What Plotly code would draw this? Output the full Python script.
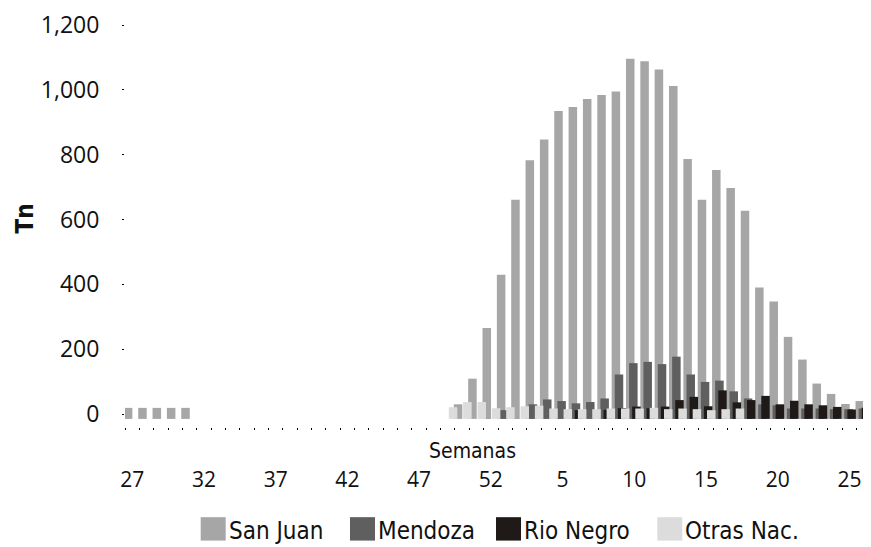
import plotly.graph_objects as go

weeks = ["27", "28", "29", "30", "31", "32", "33", "34", "35", "36", "37", "38", "39",
         "40", "41", "42", "43", "44", "45", "46", "47", "48", "49", "50", "51", "52",
         "1", "2", "3", "4", "5", "6", "7", "8", "9", "10", "11", "12", "13",
         "14", "15", "16", "17", "18", "19", "20", "21", "22", "23", "24", "25", "26"]

N = None
san_juan = [19, 19, 19, 19, 19, N, N, N, N, N, N, N, N,
            N, N, N, N, N, N, N, N, N, N, 30, 109, 265,
            430, 661, 783, 847, 935, 947, 972, 984, 995, 1096, 1088, 1063, 1012,
            787, 661, 753, 697, 627, 390, 347, 238, 168, 94, 62, 31, 40]
mendoza = [N, N, N, N, N, N, N, N, N, N, N, N, N,
           N, N, N, N, N, N, N, N, N, N, N, N, N,
           12, N, 30, 45, 40, 33, 37, 48, 122, 157, 161, 154, 177,
           122, 99, 103, 70, 48, 30, 27, 17, 17, 17, 15, 15, 17]
rio_negro = [N, N, N, N, N, N, N, N, N, N, N, N, N,
             N, N, N, N, N, N, N, N, N, N, N, N, N,
             N, N, N, N, N, 12, N, 13, 18, 23, 18, 23, 43,
             53, 24, 73, 36, 43, 56, 30, 41, 30, 27, 22, 14, 19]
otras = [N, N, N, N, N, N, N, N, N, N, N, N, N,
         N, N, N, N, N, N, N, N, N, 21, 37, 37, 18,
         21, 24, 26, 17, 15, 15, 15, 17, 17, 17, 19, 15, 17,
         15, 12, 15, 17, N, N, N, N, N, N, N, N, N]

series_names = ["San Juan", "Mendoza", "Rio Negro", "Otras Nac."]
series_values = [san_juan, mendoza, rio_negro, otras]
colors = ["#a6a6a6", "#5f5f5f", "#1f1a17", "#dcdcdc"]
offsets = [-0.579, -0.363, -0.147, 0.07]
label_weeks = ["27", "32", "37", "42", "47", "52", "5", "10", "15", "20", "25"]
y_ticks = [0, 200, 400, 600, 800, 1000, 1200]

# page body has an 8px margin; figure is sized so the plot area sits at
# x 125..871, y 20..427 of the 871x547 window
BODY = 8
WIN_W, WIN_H = 871, 547
PLOT_L, PLOT_R, PLOT_T, PLOT_B = 125, 871, 20, 427
W, H = WIN_W - BODY, WIN_H - BODY
ML, MT = PLOT_L - BODY, PLOT_T - BODY
MR = W - (PLOT_R - BODY)
MB = H - (PLOT_B - BODY)
PW, PH = PLOT_R - PLOT_L, PLOT_B - PLOT_T
COND = "DejaVu Sans Condensed, Open Sans"


def px_x(px):
    return (px - PLOT_L) / PW


def px_y(py):
    return (PLOT_B - py) / PH


fig = go.Figure()
for name, vals, col, off in zip(series_names, series_values, colors, offsets):
    fig.add_trace(go.Bar(
        x=weeks, y=[v if v is None else v + 15 for v in vals], base=-15,
        name=name, marker=dict(color=col, line=dict(width=0)),
        width=0.593, offset=off, showlegend=False,
        customdata=vals, hovertemplate="%{x}: %{customdata}<extra>" + name + "</extra>",
    ))

fig.update_layout(
    width=W, height=H, autosize=False,
    margin=dict(l=ML, r=MR, t=MT, b=MB, pad=0),
    barmode="overlay",
    plot_bgcolor="white", paper_bgcolor="white",
    font=dict(family="Open Sans", color="#111111"),
)

fig.update_xaxes(
    type="category", categoryorder="array", categoryarray=weeks,
    range=[-0.5, len(weeks) - 0.5],
    tickmode="array", tickvals=weeks,
    ticktext=[w if w in label_weeks else "" for w in weeks],
    tickson="boundaries", ticks="outside", ticklen=2, tickwidth=1, tickcolor="#000",
    tickangle=0, ticklabeloverflow="allow",
    showline=False, showgrid=False, zeroline=False,
    tickfont=dict(family="Open Sans", size=21, color="#111"),
    ticklabelstandoff=38,
)
fig.update_yaxes(
    range=[-40, 1200], tickmode="array", tickvals=y_ticks,
    tickformat=",", ticks="outside", ticklen=2, tickwidth=1, tickcolor="#000",
    ticklabeloverflow="allow",
    showline=False, showgrid=False, zeroline=False,
    tickfont=dict(family="Open Sans", size=23, color="#111"),
    ticklabelstandoff=18,
)

annotations = [
    dict(text="<b>Tn</b>", textangle=-90, x=px_x(25), y=px_y(216), xref="paper", yref="paper",
         showarrow=False, font=dict(family=COND, size=24, color="#111"),
         xanchor="center", yanchor="middle"),
    dict(text="Semanas", x=px_x(472), y=px_y(451), xref="paper", yref="paper",
         showarrow=False, font=dict(family=COND, size=21, color="#111"),
         xanchor="center", yanchor="middle"),
]
shapes = []
swatch_left = [200.7, 350, 496, 657.3]
for name, col, sx in zip(series_names, colors, swatch_left):
    shapes.append(dict(type="rect", xref="paper", yref="paper",
                       x0=px_x(sx), x1=px_x(sx + 25), y0=px_y(542), y1=px_y(518.3),
                       fillcolor=col, line=dict(width=0)))
    annotations.append(dict(text=name, x=px_x(sx + 26), y=px_y(532), xref="paper", yref="paper",
                            showarrow=False, xanchor="left", yanchor="middle",
                            font=dict(family=COND, size=24, color="#111")))
fig.update_layout(annotations=annotations, shapes=shapes)

fig.write_html("out.html")
